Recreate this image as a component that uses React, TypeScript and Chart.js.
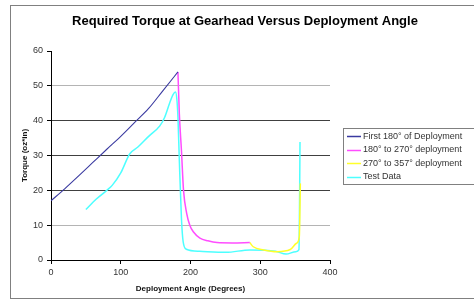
import { useEffect, useRef } from "react";
import { Chart, registerables } from "chart.js";

Chart.register(...registerables);

const FONT = "'Liberation Sans', Arial, sans-serif";

const TITLE = "Required Torque at Gearhead Versus Deployment Angle";
const X_TITLE = "Deployment Angle (Degrees)";
const Y_TITLE = "Torque (oz*in)";

const SERIES_LABELS = [
  "First 180° of Deployment",
  "180° to 270° deployment",
  "270° to 357° deployment",
  "Test Data",
];
const SERIES_COLORS = ["#3a3aa0", "#ff4dff", "#ffff2a", "#4dffff"];
const SERIES_WIDTHS = [1.1, 1.5, 1.5, 1.5];

// First 180 deg of deployment
const firstAngle = [0, 20, 40, 60, 80, 100, 120, 140, 160, 182];
const firstTorque = [17, 20.5, 24.2, 28, 31.8, 35.5, 39.5, 43.5, 48.5, 54];

// 180 to 270 deg deployment
const secondAngle = [182, 184, 187, 190, 194.5, 199, 204, 213.5, 225, 238, 260, 285];
const secondTorque = [54, 42, 31.5, 20, 13.4, 10, 8.1, 6.3, 5.5, 5, 4.9, 5];

// 270 to 357 deg deployment
const thirdAngle = [285, 290, 305, 324, 343, 352, 356, 357.5];
const thirdTorque = [5, 3.8, 2.9, 2.4, 3, 4.8, 6.7, 22];

// Test data
const testAngle = [
  50, 65, 80, 88, 100, 113, 125, 140, 156, 163, 170, 175, 178.5, 180.5, 182, 184,
  187, 189.5, 194, 213, 251, 285, 322, 337, 351, 355.5, 356.5, 357,
];
const testTorque = [
  14.5, 17.5, 20, 21.5, 25, 30.5, 32.5, 35.5, 38.5, 41, 45, 47.5, 48.2, 46, 41, 28.6,
  12, 5.2, 3.1, 2.5, 2.2, 2.9, 2.5, 1.7, 2.4, 3, 20, 33.9,
];

const X_MIN = 0;
const X_MAX = 400;
const X_STEP = 100;
const Y_MIN = 0;
const Y_MAX = 60;
const Y_STEP = 10;

const toPoints = (xs: number[], ys: number[]) => xs.map((x, i) => ({ x, y: ys[i] }));

const SERIES = [
  toPoints(firstAngle, firstTorque),
  toPoints(secondAngle, secondTorque),
  toPoints(thirdAngle, thirdTorque),
  toPoints(testAngle, testTorque),
];

const framePlugin = {
  id: "frame",
  beforeDraw(chart: any) {
    const { ctx, width, height } = chart;
    ctx.save();
    ctx.fillStyle = "#ffffff";
    ctx.fillRect(0, 0, width, height);
    ctx.strokeStyle = "#808080";
    ctx.lineWidth = 1;
    ctx.strokeRect(10.5, 5.5, width, 293);
    ctx.restore();
  },
  afterDraw(chart: any) {
    const { ctx } = chart;
    ctx.save();
    ctx.fillStyle = "#000000";
    ctx.font = `bold 13px ${FONT}`;
    ctx.textAlign = "center";
    ctx.textBaseline = "middle";
    ctx.fillText(TITLE, 245, 21);
    ctx.restore();
  },
};

const legendPlugin = {
  id: "boxLegend",
  afterDraw(chart: any) {
    const { ctx, chartArea } = chart;
    const datasets = chart.data.datasets;
    const rowH = 13.5;
    const boxH = datasets.length * rowH + 2;
    const left = 343.5;
    const top = Math.round((chartArea.top + chartArea.bottom) / 2 - boxH / 2) + 0.5;
    ctx.save();
    ctx.fillStyle = "#ffffff";
    ctx.fillRect(left, top, 300, boxH);
    ctx.strokeStyle = "#808080";
    ctx.lineWidth = 1;
    ctx.strokeRect(left, top, 300, boxH);
    ctx.font = `9px ${FONT}`;
    ctx.textBaseline = "middle";
    datasets.forEach((ds: any, i: number) => {
      const cy = top + 1 + rowH * i + rowH / 2;
      ctx.strokeStyle = ds.borderColor;
      ctx.lineWidth = 1.5;
      ctx.beginPath();
      ctx.moveTo(347, Math.round(cy) + 0.5);
      ctx.lineTo(361, Math.round(cy) + 0.5);
      ctx.stroke();
      ctx.fillStyle = "#333333";
      ctx.fillText(ds.label, 363, cy);
    });
    ctx.restore();
  },
};

export default function App() {
  const canvasRef = useRef<HTMLCanvasElement | null>(null);

  useEffect(() => {
    if (!canvasRef.current) return;
    Chart.defaults.font.family = FONT;
    const chart = new Chart(canvasRef.current, {
      type: "scatter",
      data: {
        datasets: SERIES.map((pts, i) => ({
          label: SERIES_LABELS[i],
          data: pts,
          showLine: true,
          borderColor: SERIES_COLORS[i],
          backgroundColor: SERIES_COLORS[i],
          borderWidth: SERIES_WIDTHS[i],
          pointRadius: 0,
          cubicInterpolationMode: "monotone" as const,
          fill: false,
        })),
      },
      options: {
        responsive: false,
        animation: false,
        layout: { padding: { left: 0, right: 160, top: 51, bottom: 0 } },
        plugins: {
          legend: { display: false },
          tooltip: { enabled: false },
          title: { display: false },
        },
        scales: {
          x: {
            type: "linear",
            min: X_MIN,
            max: X_MAX,
            ticks: {
              stepSize: X_STEP,
              color: "#333333",
              font: { family: FONT, size: 9 },
              padding: 3,
            },
            grid: {
              drawOnChartArea: false,
              drawTicks: true,
              tickLength: 4,
              tickColor: "#000000",
            },
            border: { display: true, color: "#000000", width: 1 },
            title: {
              display: true,
              text: X_TITLE,
              color: "#111111",
              font: { family: FONT, size: 8, weight: "bold" },
              padding: { top: 0, bottom: 7 },
            },
            afterFit: (s: any) => {
              s.height = 41;
            },
          },
          y: {
            type: "linear",
            min: Y_MIN,
            max: Y_MAX,
            ticks: {
              stepSize: Y_STEP,
              color: "#333333",
              font: { family: FONT, size: 9 },
              padding: 4,
            },
            grid: {
              color: (c: any) => {
                const v = c.tick ? c.tick.value : null;
                if (v === 0 || v === 60) return "rgba(0,0,0,0)";
                if (v === 10 || v === 50) return "#b4b4b4";
                return "#404040";
              },
              tickColor: "#000000",
              tickLength: 4,
              lineWidth: 1,
            },
            border: { display: true, color: "#000000", width: 1 },
            title: {
              display: true,
              text: Y_TITLE,
              color: "#111111",
              font: { family: FONT, size: 8, weight: "bold" },
              padding: { top: 20, bottom: 0 },
            },
            afterFit: (s: any) => {
              s.width = 51;
            },
          },
        },
      },
      plugins: [framePlugin, legendPlugin],
    });
    return () => chart.destroy();
  }, []);

  return (
    <div
      style={{
        position: "fixed",
        left: 0,
        top: 0,
        width: 474,
        height: 301,
        overflow: "hidden",
        background: "#fff",
      }}
    >
      <canvas ref={canvasRef} width={490} height={301} style={{ display: "block" }} />
    </div>
  );
}
